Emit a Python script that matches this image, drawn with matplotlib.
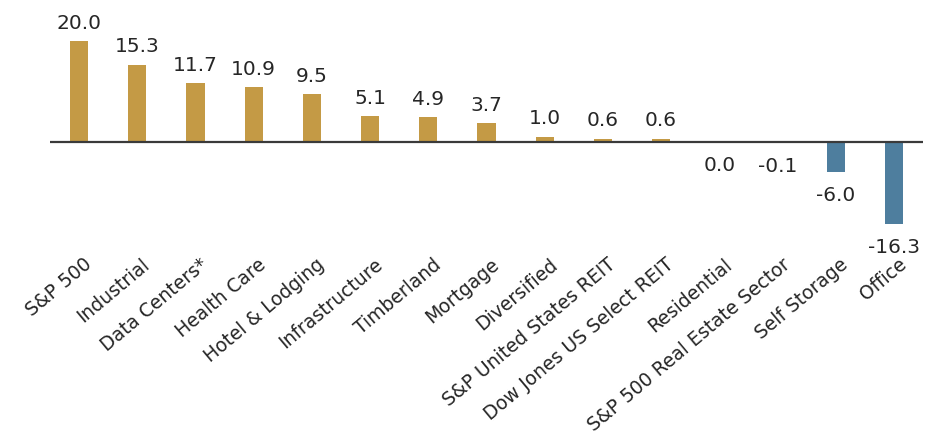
import matplotlib.pyplot as plt
import matplotlib.transforms as mtransforms

# Sector returns (%)
categories = ['S&P 500', 'Industrial', 'Data Centers*', 'Health Care', 'Hotel & Lodging',
              'Infrastructure', 'Timberland', 'Mortgage', 'Diversified',
              'S&P United States REIT', 'Dow Jones US Select REIT', 'Residential',
              'S&P 500 Real Estate Sector', 'Self Storage', 'Office']
values = [20.0, 15.3, 11.7, 10.9, 9.5, 5.1, 4.9, 3.7, 1.0, 0.6, 0.6, 0.0, -0.1, -6.0, -16.3]
value_labels = ['20.0', '15.3', '11.7', '10.9', '9.5', '5.1', '4.9', '3.7', '1.0',
                '0.6', '0.6', '0.0', '-0.1', '-6.0', '-16.3']

gold = '#C49A45'
blue = '#4E7E9E'
text_color = '#262626'

plt.rcParams['font.family'] = ['DejaVu Sans']

fig = plt.figure(figsize=(9.29, 4.38), dpi=100)
# axes placed so the zero line lands where it does in the original
ax = fig.add_axes([50 / 929, (438 - 250) / 438, 873 / 929, 240 / 438])

x = list(range(len(categories)))
colors = [gold if v > 0 else blue for v in values]
ax.bar(x, values, width=0.31, color=colors, zorder=2)
ax.axhline(0, color='#3a3a3a', linewidth=1.6, zorder=3)

for xi, v, lab in zip(x, values, value_labels):
    if v > 0:
        ax.annotate(lab, (xi, v), xytext=(0, 9.1), textcoords='offset points',
                    ha='center', va='baseline', fontsize=14.5, color=text_color)
    else:
        ax.annotate(lab, (xi, v), xytext=(0, -20.9), textcoords='offset points',
                    ha='center', va='baseline', fontsize=14.5, color=text_color)

ax.set_xlim(-0.5, len(categories) - 0.5)
ax.set_ylim(-21.47, 26.24)
ax.set_yticks([])
ax.set_xticks(x)
ax.set_xticklabels(categories, rotation=40, ha='right', va='top',
                   rotation_mode='anchor', fontsize=13.5, color=text_color)
ax.tick_params(axis='x', length=0, pad=3.5)

shift = mtransforms.ScaledTranslation(4 / 100, 0, fig.dpi_scale_trans)
for lbl in ax.get_xticklabels():
    lbl.set_transform(lbl.get_transform() + shift)

for s in ax.spines.values():
    s.set_visible(False)

fig.savefig('out.png', dpi=100)
